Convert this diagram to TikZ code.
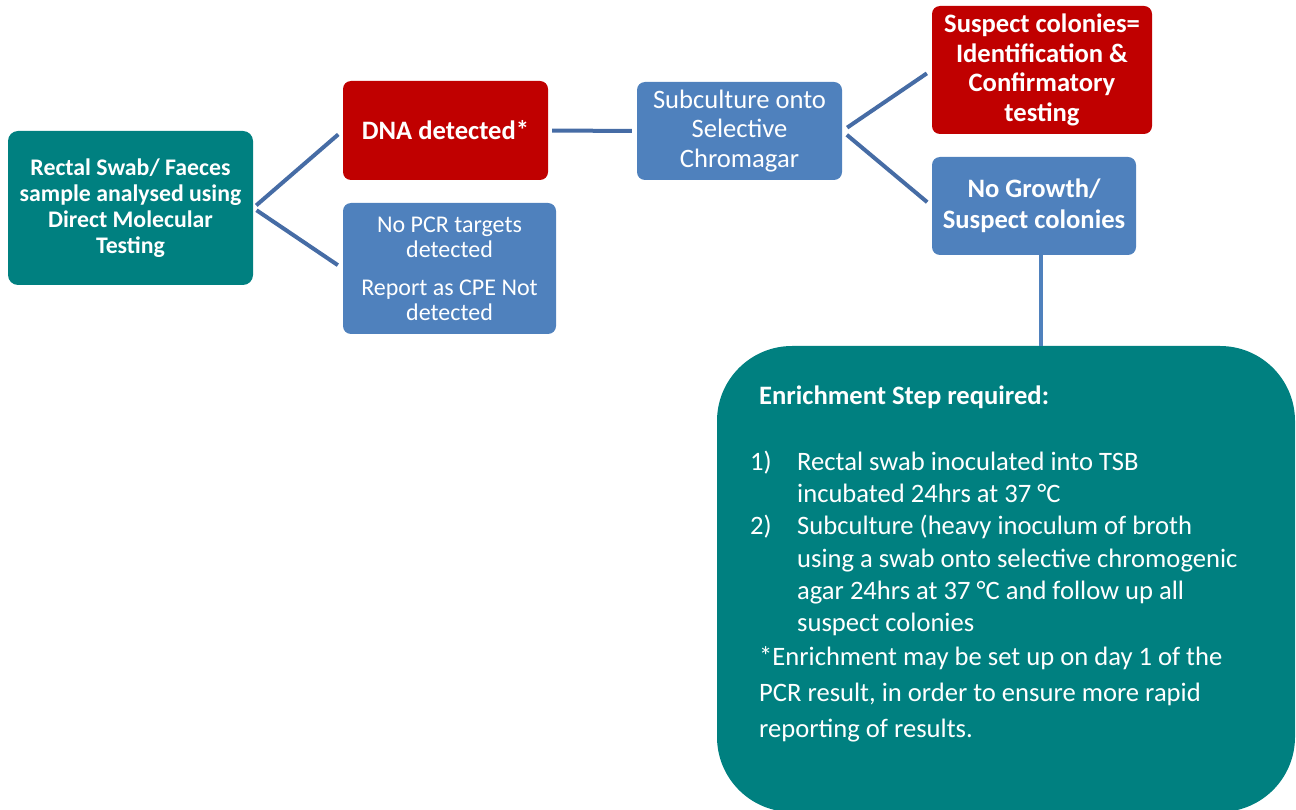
\documentclass[tikz,border=0pt]{standalone}
\usepackage{fontspec}
\setmainfont{Carlito}
\usepackage{tikz}
\usetikzlibrary{calc}
\definecolor{tealbox}{RGB}{0,128,128}
\definecolor{redbox}{RGB}{192,0,0}
\definecolor{bluebox}{RGB}{79,129,189}
\definecolor{linkblue}{RGB}{70,108,165}
\begin{document}
\begin{tikzpicture}[x=1pt,y=1pt,
    box/.style={rounded corners=8pt, text=white, align=center, inner sep=4pt},
    link/.style={linkblue, line width=4pt}]
        \useasboundingbox (0,0) rectangle (1296,-810);
        % left part
        \node[box,fill=tealbox,minimum width=245pt,minimum height=154pt,rounded corners=10pt,font=\fontsize{23.8}{26}\selectfont\bfseries] (start) at (130.5,-208) {Rectal Swab/ Faeces\\sample analysed using\\Direct Molecular\\Testing};
        \node[box,fill=redbox,minimum width=205pt,minimum height=99pt,font=\fontsize{26.6}{28}\selectfont\bfseries] (dna) at (445.5,-130.5) {DNA detected*};
        \node[box,fill=bluebox,minimum width=213pt,minimum height=131pt,font=\fontsize{24}{25}\selectfont] (nopcr) at (449.5,-268.5) {No PCR targets\\detected\\[13pt]Report as CPE Not\\detected};
        % culture
        \node[box,fill=bluebox,minimum width=205pt,minimum height=98pt,font=\fontsize{26.6}{29.5}\selectfont] (sub) at (739.5,-131) {Subculture onto\\Selective\\Chromagar};
        \node[box,fill=redbox,minimum width=220pt,minimum height=128pt,font=\fontsize{26.6}{29.7}\selectfont\bfseries] (suspect) at (1042,-70) {Suspect colonies=\\Identification \&\\Confirmatory\\testing};
        \node[box,fill=bluebox,minimum width=204pt,minimum height=98pt,font=\fontsize{26.6}{31}\selectfont\bfseries] (nogrowth) at (1034,-206) {No Growth/\\Suspect colonies};
        % enrichment
        \node[fill=tealbox,rounded corners=75pt,minimum width=578pt,minimum height=466pt] (enrich) at (1006,-579) {};
        \node[text=white,anchor=base west,inner sep=0pt,font=\fontsize{26.6}{32.2}\selectfont] (enrichtext) at (750,-404.5) {%
          \begin{tabular}[t]{@{}p{47pt}@{}l@{}}
            \multicolumn{2}{@{\hspace{9pt}}l@{}}{\bfseries Enrichment Step required:}\\[33.8pt]
            1) & Rectal swab inoculated into TSB\\
               & incubated 24hrs at 37 °C\\
            2) & Subculture (heavy inoculum of broth\\
               & using a swab onto selective chromogenic\\
               & agar 24hrs at 37 °C and follow up all\\
               & suspect colonies\\[1.8pt]
            \multicolumn{2}{@{\hspace{9pt}}l@{}}{*Enrichment may be set up on day 1 of the}\\[3.8pt]
            \multicolumn{2}{@{\hspace{9pt}}l@{}}{PCR result, in order to ensure more rapid}\\[3.8pt]
            \multicolumn{2}{@{\hspace{9pt}}l@{}}{reporting of results.}
          \end{tabular}};
        % connectors
        \draw[link,shorten <=4pt,shorten >=6pt] (start.east) -- (dna.west);
        \draw[link,shorten <=4pt,shorten >=6pt] (start.east) -- (nopcr.west);
        \draw[link,shorten <=4pt,shorten >=5pt] (dna.east) -- (sub.west);
        \draw[link,shorten <=6pt,shorten >=6pt] (sub.east) -- (suspect.west);
        \draw[link,shorten <=6pt,shorten >=6pt] (sub.east) -- (nogrowth.west);
        \draw[bluebox,line width=4pt] ([xshift=7pt]nogrowth.south) -- ([xshift=7pt]nogrowth.south |- enrich.north);
\end{tikzpicture}
\end{document}
